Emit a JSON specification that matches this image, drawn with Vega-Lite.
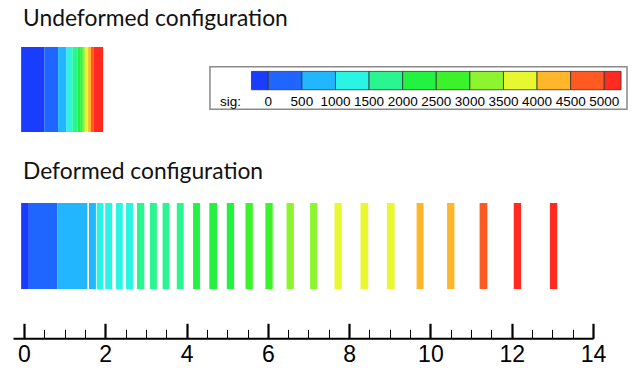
{
  "$schema": "https://vega.github.io/schema/vega-lite/v6.json",
  "padding": {"left": 13, "top": 7, "right": 5, "bottom": 0},
  "background": "white",
  "spacing": 28,
  "config": {
    "view": {"stroke": null},
    "title": {"font": "Lato", "fontSize": 22.8, "fontWeight": "normal", "color": "#111111", "anchor": "start", "baseline": "alphabetic"}
  },
  "datasets": {
    "undeformed": [
      {"x0": -0.07, "x1": 0.5, "sig": -250},
      {"x0": 0.5, "x1": 0.84, "sig": 250},
      {"x0": 0.84, "x1": 1.05, "sig": 750},
      {"x0": 1.05, "x1": 1.19, "sig": 1250},
      {"x0": 1.19, "x1": 1.32, "sig": 1750},
      {"x0": 1.32, "x1": 1.4, "sig": 2250},
      {"x0": 1.4, "x1": 1.45, "sig": 2750},
      {"x0": 1.45, "x1": 1.5, "sig": 3250},
      {"x0": 1.5, "x1": 1.58, "sig": 3750},
      {"x0": 1.58, "x1": 1.65, "sig": 4250},
      {"x0": 1.65, "x1": 1.71, "sig": 4750},
      {"x0": 1.71, "x1": 1.95, "sig": 5250}
    ],
    "deformed": [
      {"x0": -0.07, "x1": 0.12, "sig": -250},
      {"x0": 0.12, "x1": 0.82, "sig": 250},
      {"x0": 0.82, "x1": 1.56, "sig": 750},
      {"x0": 1.6, "x1": 1.77, "sig": 750},
      {"x0": 1.79, "x1": 1.95, "sig": 1250},
      {"x0": 2.0, "x1": 2.17, "sig": 1250},
      {"x0": 2.26, "x1": 2.43, "sig": 1250},
      {"x0": 2.51, "x1": 2.69, "sig": 1250},
      {"x0": 2.78, "x1": 2.96, "sig": 1750},
      {"x0": 3.1, "x1": 3.27, "sig": 1750},
      {"x0": 3.41, "x1": 3.58, "sig": 1750},
      {"x0": 3.76, "x1": 3.93, "sig": 1750},
      {"x0": 4.16, "x1": 4.33, "sig": 2250},
      {"x0": 4.56, "x1": 4.75, "sig": 2250},
      {"x0": 4.99, "x1": 5.17, "sig": 2250},
      {"x0": 5.45, "x1": 5.63, "sig": 2750},
      {"x0": 5.94, "x1": 6.12, "sig": 2750},
      {"x0": 6.46, "x1": 6.64, "sig": 3250},
      {"x0": 7.04, "x1": 7.22, "sig": 3250},
      {"x0": 7.64, "x1": 7.82, "sig": 3750},
      {"x0": 8.28, "x1": 8.47, "sig": 3750},
      {"x0": 8.93, "x1": 9.12, "sig": 3750},
      {"x0": 9.66, "x1": 9.83, "sig": 4250},
      {"x0": 10.41, "x1": 10.59, "sig": 4250},
      {"x0": 11.21, "x1": 11.4, "sig": 4750},
      {"x0": 12.05, "x1": 12.23, "sig": 5250},
      {"x0": 12.94, "x1": 13.12, "sig": 5250}
    ],
    "legendBins": [
      {"lo": -250, "hi": 0, "sig": -125},
      {"lo": 0, "hi": 500, "sig": 250},
      {"lo": 500, "hi": 1000, "sig": 750},
      {"lo": 1000, "hi": 1500, "sig": 1250},
      {"lo": 1500, "hi": 2000, "sig": 1750},
      {"lo": 2000, "hi": 2500, "sig": 2250},
      {"lo": 2500, "hi": 3000, "sig": 2750},
      {"lo": 3000, "hi": 3500, "sig": 3250},
      {"lo": 3500, "hi": 4000, "sig": 3750},
      {"lo": 4000, "hi": 4500, "sig": 4250},
      {"lo": 4500, "hi": 5000, "sig": 4750},
      {"lo": 5000, "hi": 5250, "sig": 5125}
    ],
    "legendLabels": [
      {"t": 0}, {"t": 500}, {"t": 1000}, {"t": 1500}, {"t": 2000}, {"t": 2500},
      {"t": 3000}, {"t": 3500}, {"t": 4000}, {"t": 4500}, {"t": 5000}
    ]
  },
  "vconcat": [
    {
      "title": {"text": "Undeformed configuration", "dx": 10, "offset": 16.3},
      "width": 616,
      "height": 85,
      "resolve": {"scale": {"x": "independent", "y": "independent"}},
      "layer": [
        {
          "data": {"name": "undeformed"},
          "mark": "rect",
          "encoding": {
            "x": {"field": "x0", "type": "quantitative", "scale": {"domain": [-0.27, 14.9], "nice": false, "zero": false}, "axis": null},
            "x2": {"field": "x1"},
            "color": {"field": "sig", "type": "quantitative", "legend": null,
              "scale": {"type": "threshold", "domain": [0, 500, 1000, 1500, 2000, 2500, 3000, 3500, 4000, 4500, 5000],
                "range": ["#1a3cff", "#1e66ff", "#22b6ff", "#2af5e4", "#2af590", "#24f240", "#3cf22a", "#8cf530", "#e8f830", "#ffb62a", "#ff5a22", "#ff2a20"]}}
          }
        },
        {
          "layer": [
            {
              "data": {"values": [{}]},
              "mark": {"type": "rect", "fill": "white", "stroke": "#8a8a8a", "strokeWidth": 1.5},
              "encoding": {
                "x": {"datum": -868, "type": "quantitative", "scale": {"domain": [-3799, 5368], "nice": false, "zero": false}, "axis": null},
                "x2": {"datum": 5338},
                "y": {"datum": 0.267, "type": "quantitative", "scale": {"domain": [0, 1], "nice": false, "zero": false}, "axis": null},
                "y2": {"datum": 0.767}
              }
            },
            {
              "data": {"name": "legendBins"},
              "mark": {"type": "rect", "stroke": "#333333", "strokeWidth": 0.8},
              "encoding": {
                "x": {"field": "lo", "type": "quantitative", "scale": {"domain": [-3799, 5368], "nice": false, "zero": false}, "axis": null},
                "x2": {"field": "hi"},
                "y": {"datum": 0.497, "type": "quantitative", "scale": {"domain": [0, 1], "nice": false, "zero": false}, "axis": null},
                "y2": {"datum": 0.713},
                "color": {"field": "sig", "type": "quantitative", "legend": null,
                  "scale": {"type": "threshold", "domain": [0, 500, 1000, 1500, 2000, 2500, 3000, 3500, 4000, 4500, 5000],
                    "range": ["#1a3cff", "#1e66ff", "#22b6ff", "#2af5e4", "#2af590", "#24f240", "#3cf22a", "#8cf530", "#e8f830", "#ffb62a", "#ff5a22", "#ff2a20"]}}
              }
            },
            {
              "data": {"name": "legendLabels"},
              "mark": {"type": "text", "font": "Liberation Sans", "fontSize": 13.5, "color": "black", "baseline": "middle", "align": "center"},
              "encoding": {
                "x": {"field": "t", "type": "quantitative", "scale": {"domain": [-3799, 5368], "nice": false, "zero": false}, "axis": null},
                "y": {"datum": 0.352, "type": "quantitative", "scale": {"domain": [0, 1], "nice": false, "zero": false}, "axis": null},
                "text": {"field": "t", "type": "quantitative", "format": "d"}
              }
            },
            {
              "data": {"values": [{"name": "sig:"}]},
              "mark": {"type": "text", "font": "Liberation Sans", "fontSize": 13.5, "color": "black", "baseline": "middle", "align": "left"},
              "encoding": {
                "x": {"datum": -719, "type": "quantitative", "scale": {"domain": [-3799, 5368], "nice": false, "zero": false}, "axis": null},
                "y": {"datum": 0.352, "type": "quantitative", "scale": {"domain": [0, 1], "nice": false, "zero": false}, "axis": null},
                "text": {"field": "name", "type": "nominal"}
              }
            }
          ]
        }
      ]
    },
    {
      "title": {"text": "Deformed configuration", "dx": 10, "offset": 19.5},
      "width": 580,
      "height": 86,
      "data": {"name": "deformed"},
      "mark": "rect",
      "encoding": {
        "x": {
          "field": "x0", "type": "quantitative",
          "scale": {"domain": [-0.27, 14], "nice": false, "zero": false},
          "axis": {
            "title": null, "grid": false, "offset": 49.3,
            "values": [0, 0.5, 1, 1.5, 2, 2.5, 3, 3.5, 4, 4.5, 5, 5.5, 6, 6.5, 7, 7.5, 8, 8.5, 9, 9.5, 10, 10.5, 11, 11.5, 12, 12.5, 13, 13.5, 14],
            "labelExpr": "datum.value % 2 === 0 ? format(datum.value, 'd') : ''",
            "labelFlush": false, "labelOverlap": false, "labelBound": false,
            "labelFont": "Liberation Sans", "labelFontSize": 23, "labelColor": "black", "labelPadding": 20,
            "tickSize": {"condition": {"test": "datum.value % 2 === 0", "value": -15}, "value": -9},
            "tickWidth": {"condition": {"test": "datum.value % 2 === 0", "value": 2.2}, "value": 1},
            "tickColor": "black",
            "domainColor": "black", "domainWidth": 2
          }
        },
        "x2": {"field": "x1"},
        "color": {"field": "sig", "type": "quantitative", "legend": null,
          "scale": {"type": "threshold", "domain": [0, 500, 1000, 1500, 2000, 2500, 3000, 3500, 4000, 4500, 5000],
            "range": ["#1a3cff", "#1e66ff", "#22b6ff", "#2af5e4", "#2af590", "#24f240", "#3cf22a", "#8cf530", "#e8f830", "#ffb62a", "#ff5a22", "#ff2a20"]}}
      }
    }
  ]
}
